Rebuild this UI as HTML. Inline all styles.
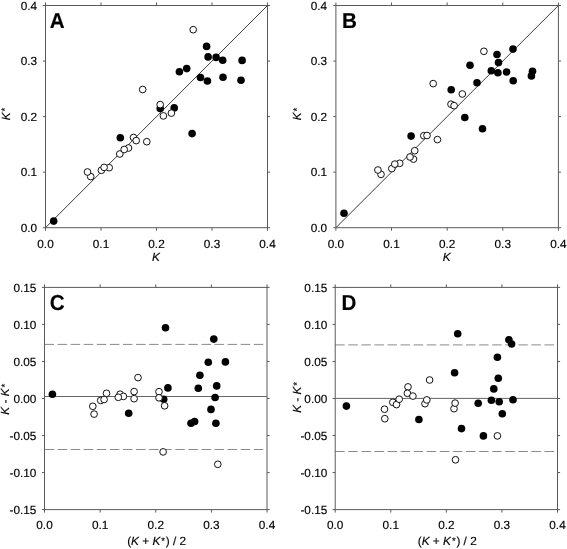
<!DOCTYPE html>
<html><head><meta charset="utf-8"><title>Figure</title>
<style>
html,body{margin:0;padding:0;background:#fff}
svg{display:block}
text{font-family:"Liberation Sans",Arial,sans-serif;font-size:11.8px;fill:#000;stroke:#000;stroke-width:0.15px;text-rendering:geometricPrecision}
.i{font-style:italic}
.a{font-size:9.5px}
.L{font-size:20.6px;font-weight:bold;fill:#000}
</style></head><body>
<svg width="567" height="549" viewBox="0 0 567 549">
<rect width="567" height="549" fill="#fff"/>
<path d="M45.5 227.7L267.5 5.5" stroke="#1a1a1a" stroke-width="0.85" fill="none"/>
<rect x="45.5" y="5.5" width="222.00" height="222.20" fill="none" stroke="#5a5a5a" stroke-width="1.0"/>
<path d="M45.50 227.7v3M45.50 5.5v-3M101.00 227.7v3M101.00 5.5v-3M156.50 227.7v3M156.50 5.5v-3M212.00 227.7v3M212.00 5.5v-3M267.50 227.7v3M267.50 5.5v-3M45.5 227.70h-2.6M267.5 227.70h2.6M45.5 172.15h-2.6M267.5 172.15h2.6M45.5 116.60h-2.6M267.5 116.60h2.6M45.5 61.05h-2.6M267.5 61.05h2.6M45.5 5.50h-2.6M267.5 5.50h2.6" stroke="#5a5a5a" stroke-width="1.0" fill="none"/>
<text x="45.50" y="247.80" text-anchor="middle">0.0</text>
<text x="101.00" y="247.80" text-anchor="middle">0.1</text>
<text x="156.50" y="247.80" text-anchor="middle">0.2</text>
<text x="212.00" y="247.80" text-anchor="middle">0.3</text>
<text x="267.50" y="247.80" text-anchor="middle">0.4</text>
<text x="37.10" y="231.80" text-anchor="end">0.0</text>
<text x="37.10" y="176.25" text-anchor="end">0.1</text>
<text x="37.10" y="120.70" text-anchor="end">0.2</text>
<text x="37.10" y="65.15" text-anchor="end">0.3</text>
<text x="37.10" y="9.60" text-anchor="end">0.4</text>
<text x="156.00" y="261.40" text-anchor="middle"><tspan class="i">K</tspan></text>
<text transform="translate(9.70 114.00) rotate(-90)" text-anchor="middle"><tspan class="i">K</tspan><tspan class="a" dx="1.0" dy="-1.5">*</tspan></text>
<text transform="translate(49.70 27.90) scale(1 1.05)" class="L">A</text>
<circle cx="53.7" cy="221.1" r="3.8" fill="#000"/>
<circle cx="120.3" cy="137.7" r="3.8" fill="#000"/>
<circle cx="160.2" cy="108.5" r="3.8" fill="#000"/>
<circle cx="174.2" cy="107.9" r="3.8" fill="#000"/>
<circle cx="192.1" cy="133.6" r="3.8" fill="#000"/>
<circle cx="179.4" cy="71.7" r="3.8" fill="#000"/>
<circle cx="186.7" cy="68.6" r="3.8" fill="#000"/>
<circle cx="200.5" cy="77.5" r="3.8" fill="#000"/>
<circle cx="207.4" cy="81.0" r="3.8" fill="#000"/>
<circle cx="223.0" cy="77.3" r="3.8" fill="#000"/>
<circle cx="241.0" cy="80.3" r="3.8" fill="#000"/>
<circle cx="242.1" cy="60.4" r="3.8" fill="#000"/>
<circle cx="222.7" cy="60.3" r="3.8" fill="#000"/>
<circle cx="216.1" cy="57.4" r="3.8" fill="#000"/>
<circle cx="208.1" cy="56.9" r="3.8" fill="#000"/>
<circle cx="206.6" cy="46.4" r="3.8" fill="#000"/>
<circle cx="90.7" cy="176.6" r="3.35" fill="#fff" stroke="#111" stroke-width="1"/>
<circle cx="87.5" cy="172.0" r="3.35" fill="#fff" stroke="#111" stroke-width="1"/>
<circle cx="101.4" cy="170.3" r="3.35" fill="#fff" stroke="#111" stroke-width="1"/>
<circle cx="109.2" cy="167.7" r="3.35" fill="#fff" stroke="#111" stroke-width="1"/>
<circle cx="104.1" cy="167.4" r="3.35" fill="#fff" stroke="#111" stroke-width="1"/>
<circle cx="119.8" cy="154.0" r="3.35" fill="#fff" stroke="#111" stroke-width="1"/>
<circle cx="128.5" cy="148.0" r="3.35" fill="#fff" stroke="#111" stroke-width="1"/>
<circle cx="124.2" cy="149.5" r="3.35" fill="#fff" stroke="#111" stroke-width="1"/>
<circle cx="133.5" cy="137.5" r="3.35" fill="#fff" stroke="#111" stroke-width="1"/>
<circle cx="136.2" cy="140.6" r="3.35" fill="#fff" stroke="#111" stroke-width="1"/>
<circle cx="146.8" cy="141.7" r="3.35" fill="#fff" stroke="#111" stroke-width="1"/>
<circle cx="142.7" cy="89.5" r="3.35" fill="#fff" stroke="#111" stroke-width="1"/>
<circle cx="160.2" cy="104.6" r="3.35" fill="#fff" stroke="#111" stroke-width="1"/>
<circle cx="163.4" cy="115.9" r="3.35" fill="#fff" stroke="#111" stroke-width="1"/>
<circle cx="171.4" cy="113.1" r="3.35" fill="#fff" stroke="#111" stroke-width="1"/>
<circle cx="193.2" cy="29.7" r="3.35" fill="#fff" stroke="#111" stroke-width="1"/>
<path d="M335.9 227.7L558.4 5.5" stroke="#1a1a1a" stroke-width="0.85" fill="none"/>
<rect x="335.9" y="5.5" width="222.50" height="222.20" fill="none" stroke="#5a5a5a" stroke-width="1.0"/>
<path d="M335.90 227.7v3M335.90 5.5v-3M391.52 227.7v3M391.52 5.5v-3M447.15 227.7v3M447.15 5.5v-3M502.77 227.7v3M502.77 5.5v-3M558.40 227.7v3M558.40 5.5v-3M335.9 227.70h-2.6M558.4 227.70h2.6M335.9 172.15h-2.6M558.4 172.15h2.6M335.9 116.60h-2.6M558.4 116.60h2.6M335.9 61.05h-2.6M558.4 61.05h2.6M335.9 5.50h-2.6M558.4 5.50h2.6" stroke="#5a5a5a" stroke-width="1.0" fill="none"/>
<text x="335.90" y="247.80" text-anchor="middle">0.0</text>
<text x="391.52" y="247.80" text-anchor="middle">0.1</text>
<text x="447.15" y="247.80" text-anchor="middle">0.2</text>
<text x="502.77" y="247.80" text-anchor="middle">0.3</text>
<text x="558.40" y="247.80" text-anchor="middle">0.4</text>
<text x="327.10" y="231.80" text-anchor="end">0.0</text>
<text x="327.10" y="176.25" text-anchor="end">0.1</text>
<text x="327.10" y="120.70" text-anchor="end">0.2</text>
<text x="327.10" y="65.15" text-anchor="end">0.3</text>
<text x="327.10" y="9.60" text-anchor="end">0.4</text>
<text x="446.65" y="261.40" text-anchor="middle"><tspan class="i">K</tspan></text>
<text transform="translate(301.30 114.00) rotate(-90)" text-anchor="middle"><tspan class="i">K</tspan><tspan class="a" dx="1.0" dy="-1.5">*</tspan></text>
<text transform="translate(342.00 27.90) scale(1 1.05)" class="L">B</text>
<circle cx="344.0" cy="213.2" r="3.8" fill="#000"/>
<circle cx="411.1" cy="136.1" r="3.8" fill="#000"/>
<circle cx="451.2" cy="89.8" r="3.8" fill="#000"/>
<circle cx="477.0" cy="82.8" r="3.8" fill="#000"/>
<circle cx="464.8" cy="117.5" r="3.8" fill="#000"/>
<circle cx="482.5" cy="128.8" r="3.8" fill="#000"/>
<circle cx="470.0" cy="65.3" r="3.8" fill="#000"/>
<circle cx="491.3" cy="70.8" r="3.8" fill="#000"/>
<circle cx="497.9" cy="72.8" r="3.8" fill="#000"/>
<circle cx="506.6" cy="72.0" r="3.8" fill="#000"/>
<circle cx="532.5" cy="71.3" r="3.8" fill="#000"/>
<circle cx="531.4" cy="75.9" r="3.8" fill="#000"/>
<circle cx="513.2" cy="80.8" r="3.8" fill="#000"/>
<circle cx="498.5" cy="62.6" r="3.8" fill="#000"/>
<circle cx="497.0" cy="54.5" r="3.8" fill="#000"/>
<circle cx="513.0" cy="49.1" r="3.8" fill="#000"/>
<circle cx="381.0" cy="174.4" r="3.35" fill="#fff" stroke="#111" stroke-width="1"/>
<circle cx="377.9" cy="170.0" r="3.35" fill="#fff" stroke="#111" stroke-width="1"/>
<circle cx="391.8" cy="168.6" r="3.35" fill="#fff" stroke="#111" stroke-width="1"/>
<circle cx="399.7" cy="163.3" r="3.35" fill="#fff" stroke="#111" stroke-width="1"/>
<circle cx="394.8" cy="164.1" r="3.35" fill="#fff" stroke="#111" stroke-width="1"/>
<circle cx="413.5" cy="159.1" r="3.35" fill="#fff" stroke="#111" stroke-width="1"/>
<circle cx="410.0" cy="157.0" r="3.35" fill="#fff" stroke="#111" stroke-width="1"/>
<circle cx="414.7" cy="150.7" r="3.35" fill="#fff" stroke="#111" stroke-width="1"/>
<circle cx="423.8" cy="135.7" r="3.35" fill="#fff" stroke="#111" stroke-width="1"/>
<circle cx="427.0" cy="135.5" r="3.35" fill="#fff" stroke="#111" stroke-width="1"/>
<circle cx="437.4" cy="139.6" r="3.35" fill="#fff" stroke="#111" stroke-width="1"/>
<circle cx="433.2" cy="83.6" r="3.35" fill="#fff" stroke="#111" stroke-width="1"/>
<circle cx="451.0" cy="104.2" r="3.35" fill="#fff" stroke="#111" stroke-width="1"/>
<circle cx="454.1" cy="105.7" r="3.35" fill="#fff" stroke="#111" stroke-width="1"/>
<circle cx="462.3" cy="94.0" r="3.35" fill="#fff" stroke="#111" stroke-width="1"/>
<circle cx="483.9" cy="51.3" r="3.35" fill="#fff" stroke="#111" stroke-width="1"/>
<path d="M44.5 344.4H267.0M44.5 449.5H267.0" stroke="#8a8a8a" stroke-width="1" stroke-dasharray="9.5 3.58" fill="none"/>
<path d="M44.5 396.5H267.0" stroke="#646464" stroke-width="1" fill="none"/>
<rect x="44.5" y="287.4" width="222.50" height="222.20" fill="none" stroke="#5a5a5a" stroke-width="1.0"/>
<path d="M44.50 509.6v3M44.50 287.4v-3M100.12 509.6v3M100.12 287.4v-3M155.75 509.6v3M155.75 287.4v-3M211.38 509.6v3M211.38 287.4v-3M267.00 509.6v3M267.00 287.4v-3M44.5 509.60h-2.6M267.0 509.60h2.6M44.5 472.57h-2.6M267.0 472.57h2.6M44.5 435.53h-2.6M267.0 435.53h2.6M44.5 398.50h-2.6M267.0 398.50h2.6M44.5 361.47h-2.6M267.0 361.47h2.6M44.5 324.43h-2.6M267.0 324.43h2.6M44.5 287.40h-2.6M267.0 287.40h2.6" stroke="#5a5a5a" stroke-width="1.0" fill="none"/>
<text x="44.50" y="529.40" text-anchor="middle">0.0</text>
<text x="100.12" y="529.40" text-anchor="middle">0.1</text>
<text x="155.75" y="529.40" text-anchor="middle">0.2</text>
<text x="211.38" y="529.40" text-anchor="middle">0.3</text>
<text x="267.00" y="529.40" text-anchor="middle">0.4</text>
<text x="36.40" y="513.70" text-anchor="end">-0.15</text>
<text x="36.40" y="476.67" text-anchor="end">-0.10</text>
<text x="36.40" y="439.63" text-anchor="end">-0.05</text>
<text x="36.40" y="402.60" text-anchor="end">0.00</text>
<text x="36.40" y="365.57" text-anchor="end">0.05</text>
<text x="36.40" y="328.53" text-anchor="end">0.10</text>
<text x="36.40" y="291.50" text-anchor="end">0.15</text>
<text x="156.65" y="545.20" text-anchor="middle">(<tspan class="i">K</tspan> + <tspan class="i">K</tspan><tspan class="a" dx="1.0" dy="-1.5">*</tspan><tspan dx="0.8" dy="1.5">) / 2</tspan></text>
<text transform="translate(9.10 399.20) rotate(-90)" text-anchor="middle"><tspan class="i">K</tspan> - <tspan class="i">K</tspan><tspan class="a" dx="1.0" dy="-1.5">*</tspan></text>
<text transform="translate(49.80 309.80) scale(1 1.05)" class="L">C</text>
<circle cx="52.4" cy="394.2" r="3.8" fill="#000"/>
<circle cx="128.7" cy="413.2" r="3.8" fill="#000"/>
<circle cx="165.5" cy="327.7" r="3.8" fill="#000"/>
<circle cx="167.9" cy="387.9" r="3.8" fill="#000"/>
<circle cx="163.7" cy="399.3" r="3.8" fill="#000"/>
<circle cx="191.0" cy="423.3" r="3.8" fill="#000"/>
<circle cx="194.6" cy="421.5" r="3.8" fill="#000"/>
<circle cx="198.3" cy="388.3" r="3.8" fill="#000"/>
<circle cx="199.9" cy="375.2" r="3.8" fill="#000"/>
<circle cx="208.3" cy="362.3" r="3.8" fill="#000"/>
<circle cx="213.8" cy="339.1" r="3.8" fill="#000"/>
<circle cx="225.4" cy="361.9" r="3.8" fill="#000"/>
<circle cx="216.7" cy="385.9" r="3.8" fill="#000"/>
<circle cx="215.1" cy="397.5" r="3.8" fill="#000"/>
<circle cx="211.0" cy="409.4" r="3.8" fill="#000"/>
<circle cx="215.9" cy="423.3" r="3.8" fill="#000"/>
<circle cx="92.8" cy="406.3" r="3.35" fill="#fff" stroke="#111" stroke-width="1"/>
<circle cx="94.1" cy="414.1" r="3.35" fill="#fff" stroke="#111" stroke-width="1"/>
<circle cx="100.7" cy="400.4" r="3.35" fill="#fff" stroke="#111" stroke-width="1"/>
<circle cx="104.1" cy="399.5" r="3.35" fill="#fff" stroke="#111" stroke-width="1"/>
<circle cx="106.5" cy="393.3" r="3.35" fill="#fff" stroke="#111" stroke-width="1"/>
<circle cx="120.1" cy="394.2" r="3.35" fill="#fff" stroke="#111" stroke-width="1"/>
<circle cx="123.4" cy="396.4" r="3.35" fill="#fff" stroke="#111" stroke-width="1"/>
<circle cx="118.3" cy="397.3" r="3.35" fill="#fff" stroke="#111" stroke-width="1"/>
<circle cx="134.1" cy="391.6" r="3.35" fill="#fff" stroke="#111" stroke-width="1"/>
<circle cx="134.1" cy="398.7" r="3.35" fill="#fff" stroke="#111" stroke-width="1"/>
<circle cx="138.0" cy="377.6" r="3.35" fill="#fff" stroke="#111" stroke-width="1"/>
<circle cx="159.0" cy="391.7" r="3.35" fill="#fff" stroke="#111" stroke-width="1"/>
<circle cx="159.0" cy="397.8" r="3.35" fill="#fff" stroke="#111" stroke-width="1"/>
<circle cx="164.6" cy="405.8" r="3.35" fill="#fff" stroke="#111" stroke-width="1"/>
<circle cx="163.1" cy="451.9" r="3.35" fill="#fff" stroke="#111" stroke-width="1"/>
<circle cx="217.8" cy="464.3" r="3.35" fill="#fff" stroke="#111" stroke-width="1"/>
<path d="M335.2 344.9H557.5M335.2 451.5H557.5" stroke="#8a8a8a" stroke-width="1" stroke-dasharray="9.5 3.58" fill="none"/>
<path d="M335.2 398.4H557.5" stroke="#646464" stroke-width="1" fill="none"/>
<rect x="335.2" y="287.4" width="222.30" height="222.20" fill="none" stroke="#5a5a5a" stroke-width="1.0"/>
<path d="M335.20 509.6v3M335.20 287.4v-3M390.77 509.6v3M390.77 287.4v-3M446.35 509.6v3M446.35 287.4v-3M501.93 509.6v3M501.93 287.4v-3M557.50 509.6v3M557.50 287.4v-3M335.2 509.60h-2.6M557.5 509.60h2.6M335.2 472.57h-2.6M557.5 472.57h2.6M335.2 435.53h-2.6M557.5 435.53h2.6M335.2 398.50h-2.6M557.5 398.50h2.6M335.2 361.47h-2.6M557.5 361.47h2.6M335.2 324.43h-2.6M557.5 324.43h2.6M335.2 287.40h-2.6M557.5 287.40h2.6" stroke="#5a5a5a" stroke-width="1.0" fill="none"/>
<text x="335.20" y="529.40" text-anchor="middle">0.0</text>
<text x="390.77" y="529.40" text-anchor="middle">0.1</text>
<text x="446.35" y="529.40" text-anchor="middle">0.2</text>
<text x="501.93" y="529.40" text-anchor="middle">0.3</text>
<text x="557.50" y="529.40" text-anchor="middle">0.4</text>
<text x="327.30" y="513.70" text-anchor="end">-0.15</text>
<text x="327.30" y="476.67" text-anchor="end">-0.10</text>
<text x="327.30" y="439.63" text-anchor="end">-0.05</text>
<text x="327.30" y="402.60" text-anchor="end">0.00</text>
<text x="327.30" y="365.57" text-anchor="end">0.05</text>
<text x="327.30" y="328.53" text-anchor="end">0.10</text>
<text x="327.30" y="291.50" text-anchor="end">0.15</text>
<text x="447.25" y="545.20" text-anchor="middle">(<tspan class="i">K</tspan> + <tspan class="i">K</tspan><tspan class="a" dx="1.0" dy="-1.5">*</tspan><tspan dx="0.8" dy="1.5">) / 2</tspan></text>
<text transform="translate(301.30 397.40) rotate(-90)" text-anchor="middle"><tspan class="i">K</tspan> - <tspan class="i">K</tspan><tspan class="a" dx="1.0" dy="-1.5">*</tspan></text>
<text transform="translate(341.60 309.55) scale(1 1.05)" class="L">D</text>
<circle cx="346.4" cy="406.1" r="3.8" fill="#000"/>
<circle cx="418.9" cy="419.5" r="3.8" fill="#000"/>
<circle cx="457.7" cy="333.7" r="3.8" fill="#000"/>
<circle cx="508.9" cy="339.7" r="3.8" fill="#000"/>
<circle cx="511.6" cy="344.0" r="3.8" fill="#000"/>
<circle cx="497.4" cy="357.3" r="3.8" fill="#000"/>
<circle cx="454.6" cy="372.8" r="3.8" fill="#000"/>
<circle cx="498.3" cy="378.3" r="3.8" fill="#000"/>
<circle cx="493.8" cy="388.9" r="3.8" fill="#000"/>
<circle cx="478.2" cy="403.2" r="3.8" fill="#000"/>
<circle cx="491.4" cy="400.3" r="3.8" fill="#000"/>
<circle cx="499.2" cy="401.8" r="3.8" fill="#000"/>
<circle cx="513.0" cy="399.7" r="3.8" fill="#000"/>
<circle cx="502.3" cy="413.8" r="3.8" fill="#000"/>
<circle cx="461.5" cy="428.6" r="3.8" fill="#000"/>
<circle cx="483.4" cy="435.9" r="3.8" fill="#000"/>
<circle cx="384.5" cy="409.2" r="3.35" fill="#fff" stroke="#111" stroke-width="1"/>
<circle cx="384.8" cy="418.7" r="3.35" fill="#fff" stroke="#111" stroke-width="1"/>
<circle cx="392.8" cy="402.3" r="3.35" fill="#fff" stroke="#111" stroke-width="1"/>
<circle cx="396.5" cy="404.6" r="3.35" fill="#fff" stroke="#111" stroke-width="1"/>
<circle cx="399.2" cy="399.2" r="3.35" fill="#fff" stroke="#111" stroke-width="1"/>
<circle cx="408.0" cy="386.9" r="3.35" fill="#fff" stroke="#111" stroke-width="1"/>
<circle cx="407.4" cy="393.3" r="3.35" fill="#fff" stroke="#111" stroke-width="1"/>
<circle cx="412.9" cy="396.1" r="3.35" fill="#fff" stroke="#111" stroke-width="1"/>
<circle cx="425.0" cy="403.7" r="3.35" fill="#fff" stroke="#111" stroke-width="1"/>
<circle cx="426.8" cy="399.9" r="3.35" fill="#fff" stroke="#111" stroke-width="1"/>
<circle cx="429.6" cy="380.0" r="3.35" fill="#fff" stroke="#111" stroke-width="1"/>
<circle cx="454.0" cy="408.7" r="3.35" fill="#fff" stroke="#111" stroke-width="1"/>
<circle cx="455.1" cy="403.1" r="3.35" fill="#fff" stroke="#111" stroke-width="1"/>
<circle cx="497.4" cy="435.9" r="3.35" fill="#fff" stroke="#111" stroke-width="1"/>
<circle cx="455.5" cy="459.8" r="3.35" fill="#fff" stroke="#111" stroke-width="1"/>
</svg>
</body></html>
